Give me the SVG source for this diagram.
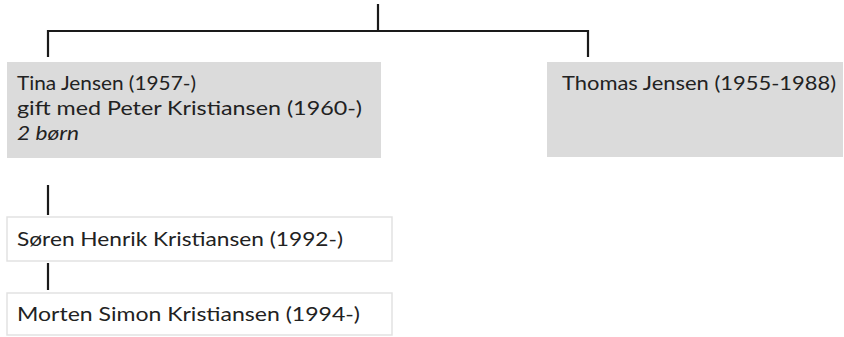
<svg xmlns="http://www.w3.org/2000/svg" width="844" height="337" viewBox="0 0 844 337">
<style>
.t{font-family:Lato,"Liberation Sans",sans-serif;font-size:20px;fill:#222}
.i{font-style:italic}
.g{fill:#dbdbdb}
.w{fill:#fff;stroke:#e2e2e2;stroke-width:1.5}
.c{stroke:#1a1a1a;stroke-width:2.2;fill:none}
</style>
<rect width="844" height="337" fill="#fff"/>
<g id="connectors">
<path class="c" d="M378 4V31M48 57V31H588V57"/>
<path class="c" d="M48 185V215M48 263V290"/>
</g>
<g id="tina">
<rect class="g" x="7" y="62" width="374" height="96"/>
<text class="t" x="17" y="90" textLength="179" lengthAdjust="spacingAndGlyphs">Tina Jensen (1957-)</text>
<text class="t" x="17" y="115" textLength="345" lengthAdjust="spacingAndGlyphs">gift med Peter Kristiansen (1960-)</text>
<text class="t i" x="17" y="140" textLength="62" lengthAdjust="spacingAndGlyphs">2 børn</text>
</g>
<g id="thomas">
<rect class="g" x="547" y="62" width="296" height="95"/>
<text class="t" x="562" y="90" textLength="274" lengthAdjust="spacingAndGlyphs">Thomas Jensen (1955-1988)</text>
</g>
<g id="soren">
<rect class="w" x="7" y="217" width="385" height="44"/>
<text class="t" x="17" y="246" textLength="326" lengthAdjust="spacingAndGlyphs">Søren Henrik Kristiansen (1992-)</text>
</g>
<g id="morten">
<rect class="w" x="7" y="293" width="385" height="42"/>
<text class="t" x="17" y="321" textLength="343" lengthAdjust="spacingAndGlyphs">Morten Simon Kristiansen (1994-)</text>
</g>
</svg>
